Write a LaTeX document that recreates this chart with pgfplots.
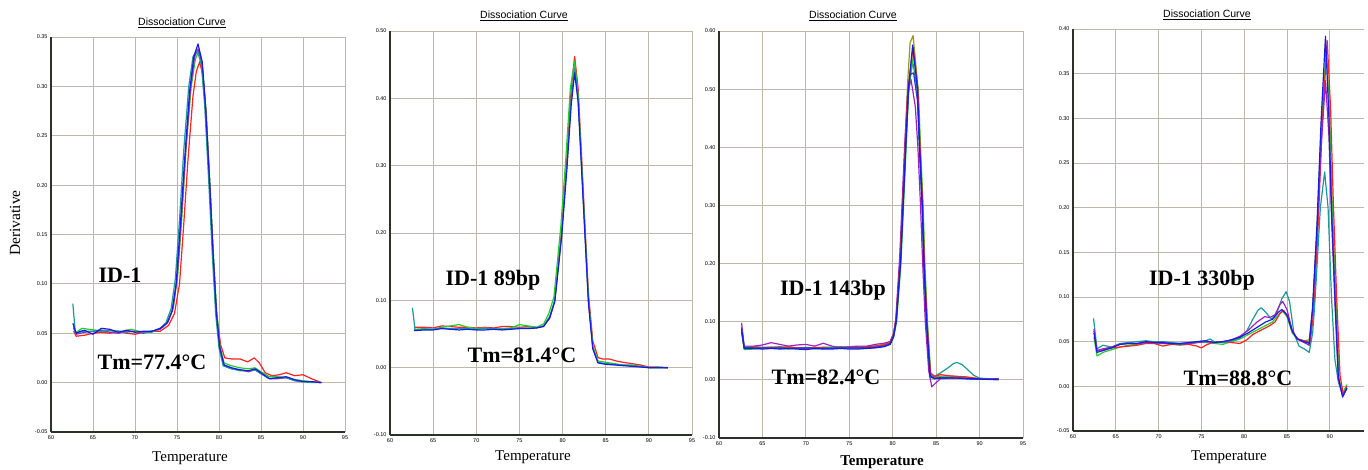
\documentclass[border=0pt]{standalone}
\usepackage{fontspec}
\setmainfont{Liberation Serif}
\newfontfamily\arial{Liberation Sans}
\usepackage{pgfplots}
\pgfplotsset{compat=1.18}
\definecolor{cred}{HTML}{FF2020}
\definecolor{cgreen}{HTML}{22D022}
\definecolor{cblue}{HTML}{1A1AE6}
\definecolor{cblueb}{HTML}{2040D0}
\definecolor{cpurple}{HTML}{A020C0}
\definecolor{cteal}{HTML}{1A9A9A}
\definecolor{colive}{HTML}{9A9A10}
\definecolor{gridc}{RGB}{188,184,170}
\definecolor{axisdark}{RGB}{45,50,40}

\pgfplotsset{dc/.style={scale only axis, anchor=south west,
  axis x line=bottom, axis y line=left,
  axis line style={-, line width=1.6pt, draw=axisdark},
  grid=major, grid style={line width=0.9pt, gridc},
  major tick length=0pt, xtick={60,65,70,75,80,85,90,95},
  ticklabel style={font=\arial\fontsize{5.5}{6}\selectfont, text=black},
  yticklabel style={/pgf/number format/.cd, fixed, fixed zerofill, precision=2},
  /pgf/number format/assume math mode=true,
  every axis plot/.append style={line width=1.2pt, line join=round, no marks}}}

\begin{document}
\begin{tikzpicture}[x=1pt,y=1pt]
\path[use as bounding box] (0,0) rectangle (1368,469);

% panel 1
\begin{axis}[dc, at={(51pt,37pt)}, width=294pt, height=395pt,
  xmin=60, xmax=95, ymin=-0.05, ymax=0.35, ytick={-0.05,0,0.05,0.10,0.15,0.20,0.25,0.30,0.35}]
\addplot[cred] coordinates {(62.7,0.052)(63.0,0.047)(64.0,0.048)(65.0,0.050)(66.0,0.051)(67.0,0.050)(68.0,0.052)(69.0,0.050)(70.0,0.049)(71.0,0.051)(72.0,0.052)(73.0,0.052)(74.0,0.058)(74.7,0.070)(75.3,0.100)(75.8,0.160)(76.3,0.225)(76.9,0.290)(77.3,0.315)(77.7,0.325)(78.1,0.310)(78.5,0.270)(78.9,0.200)(79.3,0.130)(79.7,0.070)(80.2,0.038)(80.7,0.025)(81.5,0.024)(82.5,0.024)(83.4,0.021)(84.2,0.025)(84.8,0.020)(85.5,0.010)(86.3,0.007)(87.2,0.008)(88.0,0.010)(89.0,0.007)(90.0,0.008)(91.0,0.004)(92.2,0.000)};
\addplot[cgreen] coordinates {(62.7,0.056)(63.0,0.051)(63.7,0.055)(64.5,0.054)(65.5,0.053)(66.5,0.053)(67.5,0.052)(68.5,0.052)(69.5,0.054)(70.5,0.052)(71.5,0.051)(72.5,0.053)(73.3,0.056)(74.0,0.063)(74.6,0.078)(75.1,0.110)(75.6,0.170)(76.1,0.240)(76.7,0.300)(77.2,0.328)(77.6,0.336)(78.0,0.322)(78.4,0.280)(78.9,0.205)(79.3,0.135)(79.7,0.075)(80.1,0.038)(80.6,0.020)(81.5,0.017)(82.5,0.015)(83.5,0.014)(84.3,0.015)(85.0,0.011)(86.0,0.006)(87.0,0.006)(88.0,0.005)(89.0,0.003)(90.0,0.002)(91.0,0.001)(92.2,0.000)};
\addplot[cpurple] coordinates {(62.7,0.055)(63.0,0.049)(64.0,0.051)(65.0,0.052)(66.0,0.053)(67.0,0.051)(68.0,0.050)(69.0,0.052)(70.0,0.052)(71.0,0.050)(72.0,0.052)(73.0,0.054)(73.9,0.061)(74.5,0.074)(75.0,0.105)(75.5,0.165)(76.0,0.230)(76.6,0.298)(77.1,0.330)(77.5,0.338)(78.0,0.322)(78.4,0.278)(78.9,0.200)(79.3,0.130)(79.7,0.070)(80.1,0.034)(80.6,0.017)(81.5,0.014)(82.5,0.013)(83.5,0.011)(84.3,0.013)(85.0,0.009)(86.0,0.004)(87.0,0.004)(88.0,0.005)(89.0,0.002)(90.0,0.001)(91.0,0.001)(92.2,0.000)};
\addplot[cteal] coordinates {(62.6,0.080)(62.9,0.050)(64.0,0.052)(65.0,0.052)(66.0,0.052)(67.0,0.053)(68.0,0.052)(69.0,0.051)(70.0,0.052)(71.0,0.051)(72.0,0.051)(73.0,0.055)(73.7,0.061)(74.3,0.075)(74.8,0.105)(75.3,0.165)(75.8,0.235)(76.4,0.300)(76.9,0.330)(77.4,0.337)(77.9,0.322)(78.3,0.280)(78.8,0.200)(79.2,0.130)(79.6,0.070)(80.0,0.035)(80.5,0.017)(81.5,0.014)(82.5,0.012)(83.5,0.012)(84.3,0.013)(85.0,0.009)(86.0,0.004)(87.0,0.005)(88.0,0.005)(89.0,0.002)(90.0,0.001)(91.0,0.000)(92.2,0.000)};
\addplot[cblue] coordinates {(62.6,0.060)(63.0,0.050)(63.5,0.052)(64.0,0.053)(65.0,0.049)(66.0,0.055)(67.0,0.054)(68.0,0.051)(69.0,0.053)(70.0,0.051)(71.0,0.052)(72.0,0.052)(73.0,0.055)(73.8,0.060)(74.4,0.072)(74.9,0.100)(75.4,0.160)(75.9,0.225)(76.5,0.295)(77.0,0.330)(77.5,0.343)(78.0,0.325)(78.4,0.280)(78.9,0.200)(79.3,0.130)(79.7,0.070)(80.1,0.035)(80.6,0.018)(81.5,0.015)(82.5,0.013)(83.5,0.012)(84.3,0.014)(85.0,0.010)(86.0,0.004)(87.0,0.005)(88.0,0.006)(89.0,0.003)(90.0,0.001)(91.0,0.001)(92.2,0.000)};
\end{axis}

% panel 2
\begin{axis}[dc, at={(390pt,34pt)}, width=302pt, height=404pt,
  xmin=60, xmax=95, ymin=-0.10, ymax=0.50, ytick={-0.10,0,0.10,0.20,0.30,0.40,0.50}]
\addplot[cred] coordinates {(62.8,0.060)(64,0.060)(65,0.059)(66,0.062)(67,0.061)(68,0.060)(69,0.060)(70,0.059)(71,0.060)(72,0.059)(73,0.061)(74,0.061)(75,0.060)(76,0.061)(77,0.060)(77.8,0.062)(78.5,0.073)(79.1,0.100)(79.9,0.205)(80.5,0.310)(81.0,0.415)(81.4,0.462)(81.8,0.415)(82.2,0.315)(82.6,0.210)(83.0,0.110)(83.5,0.040)(84.1,0.015)(84.6,0.013)(85.4,0.013)(86.2,0.010)(87.0,0.008)(88.0,0.006)(89.0,0.004)(90.0,0.001)(91.0,0.001)(92.2,0.000)};
\addplot[cgreen] coordinates {(62.8,0.057)(64,0.058)(65,0.057)(66,0.060)(67,0.062)(68,0.064)(69,0.060)(70,0.058)(71,0.059)(72,0.057)(73,0.058)(74,0.059)(75,0.064)(76,0.062)(77,0.060)(77.8,0.065)(78.4,0.080)(79.0,0.105)(79.8,0.210)(80.4,0.315)(80.9,0.415)(81.4,0.455)(81.8,0.405)(82.2,0.305)(82.6,0.200)(83.0,0.100)(83.5,0.032)(84.1,0.010)(85.0,0.008)(86.0,0.006)(87.0,0.004)(88.0,0.004)(89.0,0.002)(90.0,0.000)(91.0,0.001)(92.2,0.000)};
\addplot[cteal] coordinates {(62.6,0.089)(62.9,0.056)(64,0.057)(65,0.057)(66,0.059)(67,0.058)(68,0.058)(69,0.058)(70,0.057)(71,0.058)(72,0.058)(73,0.057)(74,0.058)(75,0.059)(76,0.059)(77,0.059)(77.8,0.062)(78.5,0.076)(79.1,0.100)(79.9,0.200)(80.5,0.300)(81.0,0.400)(81.4,0.445)(81.8,0.400)(82.2,0.300)(82.6,0.200)(83.0,0.100)(83.5,0.030)(84.1,0.008)(85.0,0.006)(86.0,0.005)(87.0,0.004)(88.0,0.003)(89.0,0.002)(90.0,0.000)(91.0,0.000)(92.2,0.000)};
\addplot[cblue] coordinates {(62.8,0.055)(64,0.056)(65,0.056)(66,0.058)(67,0.057)(68,0.056)(69,0.057)(70,0.056)(71,0.056)(72,0.057)(73,0.056)(74,0.057)(75,0.058)(76,0.058)(77,0.059)(77.8,0.061)(78.5,0.074)(79.1,0.098)(79.9,0.195)(80.5,0.295)(81.0,0.390)(81.4,0.438)(81.8,0.395)(82.2,0.295)(82.6,0.195)(83.0,0.095)(83.5,0.028)(84.1,0.007)(85.0,0.005)(86.0,0.004)(87.0,0.003)(88.0,0.002)(89.0,0.001)(90.0,0.000)(91.0,0.000)(92.2,0.000)};
\end{axis}

% panel 3
\begin{axis}[dc, at={(719pt,31pt)}, width=304pt, height=407pt,
  xmin=60, xmax=95, ymin=-0.10, ymax=0.60, ytick={-0.10,0,0.10,0.20,0.30,0.40,0.50,0.60}]
\addplot[colive] coordinates {(62.6,0.086)(62.9,0.053)(64,0.054)(66,0.056)(68,0.055)(70,0.054)(72,0.056)(74,0.055)(76,0.057)(78,0.058)(79,0.061)(79.7,0.065)(80.1,0.079)(80.4,0.106)(80.85,0.210)(81.15,0.315)(81.45,0.420)(81.75,0.520)(82.0,0.580)(82.35,0.592)(82.8,0.520)(83.1,0.410)(83.4,0.305)(83.6,0.205)(83.9,0.105)(84.3,0.010)(84.8,0.005)(86,0.007)(88,0.005)(90,0.002)(92.2,0.001)};
\addplot[cpurple] coordinates {(62.6,0.098)(62.9,0.058)(64,0.058)(65,0.060)(66,0.064)(67,0.061)(68,0.058)(69,0.060)(70,0.061)(71,0.058)(72,0.063)(73,0.058)(74,0.056)(75,0.057)(76,0.058)(77,0.058)(78,0.061)(79,0.063)(79.7,0.066)(80.1,0.080)(80.35,0.105)(80.8,0.210)(81.1,0.310)(81.4,0.410)(81.7,0.490)(82.1,0.517)(82.6,0.470)(82.9,0.400)(83.2,0.300)(83.45,0.200)(83.75,0.100)(84.15,0.015)(84.5,-0.012)(84.9,-0.006)(85.5,0.002)(86.5,0.003)(87.5,0.003)(88.5,0.002)(89.5,0.001)(90.5,0.001)(92.2,0.000)};
\addplot[cteal] coordinates {(62.6,0.092)(62.9,0.056)(64,0.057)(65,0.056)(66,0.056)(67,0.057)(68,0.056)(69,0.055)(70,0.056)(71,0.055)(72,0.056)(73,0.056)(74,0.057)(75,0.056)(76,0.055)(77,0.056)(78,0.058)(79,0.060)(79.7,0.063)(80.1,0.076)(80.4,0.102)(80.9,0.205)(81.2,0.305)(81.5,0.405)(81.8,0.500)(82.3,0.548)(82.85,0.495)(83.1,0.400)(83.4,0.300)(83.6,0.200)(83.9,0.100)(84.3,0.012)(84.8,0.006)(85.5,0.012)(86.3,0.020)(87.0,0.028)(87.4,0.030)(88.0,0.026)(88.6,0.018)(89.3,0.008)(90.0,0.003)(91.0,0.002)(92.2,0.002)};
\addplot[cgreen] coordinates {(62.6,0.085)(62.9,0.052)(64,0.053)(65,0.054)(66,0.055)(67,0.054)(68,0.053)(69,0.054)(70,0.055)(71,0.053)(72,0.054)(73,0.055)(74,0.054)(75,0.055)(76,0.054)(77,0.055)(78,0.056)(79,0.058)(79.7,0.061)(80.1,0.073)(80.45,0.100)(80.95,0.200)(81.25,0.300)(81.55,0.400)(81.85,0.500)(82.4,0.560)(82.95,0.500)(83.2,0.400)(83.5,0.300)(83.7,0.200)(84.0,0.100)(84.4,0.004)(84.9,0.002)(85.5,0.005)(86.5,0.005)(87.5,0.004)(88.5,0.003)(89.5,0.002)(90.5,0.001)(92.2,0.001)};
\addplot[cred] coordinates {(62.6,0.090)(62.9,0.055)(64,0.057)(65,0.055)(66,0.056)(67,0.055)(68,0.057)(69,0.055)(70,0.054)(71,0.056)(72,0.055)(73,0.054)(74,0.056)(75,0.055)(76,0.056)(77,0.057)(78,0.058)(79,0.060)(79.7,0.064)(80.1,0.078)(80.4,0.105)(80.85,0.200)(81.15,0.300)(81.45,0.400)(81.75,0.500)(82.35,0.572)(82.9,0.500)(83.15,0.400)(83.45,0.300)(83.65,0.200)(83.95,0.100)(84.35,0.012)(84.8,0.006)(85.5,0.009)(86.5,0.007)(87.5,0.006)(88.5,0.005)(89.5,0.003)(90.5,0.001)(92.2,0.001)};
\addplot[cblueb] coordinates {(62.6,0.082)(62.9,0.056)(64,0.055)(66,0.055)(68,0.054)(70,0.055)(72,0.054)(74,0.055)(76,0.055)(78,0.056)(79,0.058)(79.7,0.062)(80.1,0.076)(80.4,0.102)(80.9,0.205)(81.2,0.305)(81.5,0.405)(81.8,0.490)(82.0,0.525)(82.4,0.528)(82.85,0.480)(83.1,0.390)(83.4,0.295)(83.6,0.195)(83.9,0.095)(84.3,0.005)(84.8,0.003)(86,0.004)(88,0.003)(90,0.001)(92.2,0.001)};
\addplot[cblue] coordinates {(62.6,0.088)(62.9,0.054)(64,0.054)(65,0.053)(66,0.054)(67,0.053)(68,0.054)(69,0.053)(70,0.052)(71,0.054)(72,0.053)(73,0.053)(74,0.054)(75,0.053)(76,0.053)(77,0.054)(78,0.055)(79,0.057)(79.7,0.061)(80.1,0.074)(80.4,0.100)(80.9,0.200)(81.2,0.300)(81.5,0.400)(81.8,0.500)(82.3,0.576)(82.85,0.500)(83.1,0.400)(83.4,0.300)(83.6,0.200)(83.9,0.100)(84.3,0.008)(84.8,0.002)(85.5,0.003)(86.5,0.003)(87.5,0.003)(88.5,0.002)(89.5,0.002)(90.5,0.001)(92.2,0.001)};
\end{axis}

% panel 4
\begin{axis}[dc, at={(1073pt,38pt)}, width=291pt, height=402pt,
  xmin=60, xmax=94, ymin=-0.05, ymax=0.40, xtick={60,65,70,75,80,85,90}, ytick={-0.05,0,0.05,0.10,0.15,0.20,0.25,0.30,0.35,0.40}]
\addplot[cgreen] coordinates {(62.45,0.055)(62.8,0.034)(63.5,0.038)(64.5,0.041)(65.5,0.044)(66.5,0.046)(67.5,0.047)(68.5,0.049)(69.5,0.048)(70.5,0.048)(71.5,0.047)(72.5,0.046)(73.5,0.047)(74.5,0.049)(75.5,0.049)(76.5,0.048)(77.5,0.047)(78.5,0.050)(79.5,0.053)(80.5,0.058)(81.5,0.063)(82.5,0.068)(83.3,0.072)(84.0,0.080)(84.5,0.084)(85.0,0.078)(85.6,0.060)(86.2,0.053)(87.0,0.051)(87.6,0.052)(88.0,0.085)(88.5,0.175)(89.0,0.290)(89.6,0.380)(90.0,0.300)(90.3,0.200)(90.7,0.100)(91.1,0.008)(91.5,-0.008)(92.0,0.002)};
\addplot[cred] coordinates {(62.45,0.062)(62.8,0.040)(63.5,0.041)(64.5,0.043)(65.5,0.044)(66.5,0.045)(67.5,0.046)(68.5,0.048)(69.5,0.048)(70.5,0.045)(71.5,0.047)(72.5,0.047)(73.5,0.047)(74.5,0.045)(75.0,0.043)(75.5,0.046)(76.5,0.050)(77.5,0.050)(78.5,0.049)(79.5,0.048)(80.3,0.052)(81.0,0.058)(82.0,0.063)(83.0,0.068)(83.6,0.072)(84.2,0.082)(84.6,0.085)(85.1,0.078)(85.7,0.060)(86.3,0.053)(87.0,0.051)(87.7,0.049)(88.1,0.080)(88.6,0.170)(89.1,0.290)(89.7,0.387)(90.1,0.310)(90.4,0.210)(90.8,0.100)(91.2,0.012)(91.6,-0.010)(92.0,0.000)};
\addplot[cteal] coordinates {(62.4,0.076)(62.8,0.042)(63.5,0.046)(64.5,0.044)(65.5,0.048)(66.5,0.049)(67.5,0.050)(68.5,0.051)(69.5,0.050)(70.5,0.050)(71.5,0.049)(72.5,0.048)(73.5,0.049)(74.5,0.050)(75.5,0.051)(76.0,0.053)(76.5,0.050)(77.5,0.049)(78.5,0.051)(79.5,0.054)(80.3,0.062)(81.0,0.075)(81.6,0.085)(82.0,0.088)(82.6,0.082)(83.2,0.075)(83.8,0.082)(84.4,0.098)(84.9,0.106)(85.3,0.095)(85.8,0.060)(86.4,0.045)(87.0,0.042)(87.6,0.038)(88.0,0.060)(88.3,0.100)(88.9,0.200)(89.4,0.240)(89.8,0.200)(90.2,0.100)(90.6,0.030)(91.0,0.005)(91.5,-0.010)(92.0,-0.003)};
\addplot[cpurple] coordinates {(62.45,0.064)(62.8,0.040)(63.5,0.042)(64.5,0.044)(65.5,0.047)(66.5,0.048)(67.5,0.048)(68.5,0.049)(69.5,0.049)(70.5,0.048)(71.5,0.048)(72.5,0.047)(73.5,0.048)(74.5,0.049)(75.5,0.050)(76.5,0.049)(77.5,0.050)(78.5,0.052)(79.5,0.056)(80.5,0.063)(81.5,0.072)(82.4,0.078)(83.0,0.077)(83.6,0.080)(84.2,0.092)(84.5,0.095)(85.0,0.086)(85.6,0.063)(86.2,0.053)(87.0,0.049)(87.6,0.046)(88.0,0.085)(88.5,0.170)(89.0,0.270)(89.5,0.342)(89.9,0.280)(90.2,0.190)(90.6,0.095)(91.0,0.008)(91.5,-0.010)(92.0,-0.002)};
\addplot[cblue] coordinates {(62.45,0.060)(62.8,0.038)(63.5,0.040)(64.5,0.043)(65.5,0.047)(66.5,0.048)(67.5,0.048)(68.5,0.050)(69.5,0.049)(70.5,0.049)(71.5,0.048)(72.5,0.048)(73.5,0.049)(74.5,0.050)(75.5,0.051)(76.5,0.049)(77.5,0.050)(78.5,0.052)(79.5,0.055)(80.5,0.060)(81.5,0.066)(82.5,0.072)(83.3,0.075)(84.0,0.083)(84.4,0.086)(85.0,0.080)(85.6,0.062)(86.2,0.053)(87.0,0.050)(87.6,0.048)(88.0,0.090)(88.5,0.180)(89.0,0.300)(89.5,0.392)(89.9,0.300)(90.2,0.200)(90.6,0.100)(91.0,0.010)(91.5,-0.012)(92.0,-0.002)};
\end{axis}

% titles
\begin{scope}[every node/.style={font=\arial\fontsize{10.5}{12}\selectfont}]
\node at (182,446) {\underline{Dissociation Curve}};
\node at (524,453) {\underline{Dissociation Curve}};
\node at (853,453) {\underline{Dissociation Curve}};
\node at (1207,454) {\underline{Dissociation Curve}};
\end{scope}
% axis labels
\begin{scope}[every node/.style={font=\fontsize{15}{17}\selectfont}]
\node at (190,11) {Temperature};
\node at (533,12) {Temperature};
\node[font=\bfseries\fontsize{15}{17}\selectfont] at (882,7) {Temperature};
\node at (1229,12) {Temperature};
\node[rotate=90, font=\fontsize{15.5}{17}\selectfont] at (15,246) {Derivative};
\end{scope}
% annotations
\begin{scope}[every node/.style={font=\bfseries\fontsize{22}{24}\selectfont}]
\node at (120,194) {ID-1};
\node at (152,107) {Tm=77.4°C};
\node at (493,189) {ID-1 89bp};
\node at (522,114) {Tm=81.4°C};
\node at (833,179) {ID-1 143bp};
\node at (826,92) {Tm=82.4°C};
\node at (1202,189) {ID-1 330bp};
\node at (1238,91) {Tm=88.8°C};
\end{scope}
\end{tikzpicture}
\end{document}
